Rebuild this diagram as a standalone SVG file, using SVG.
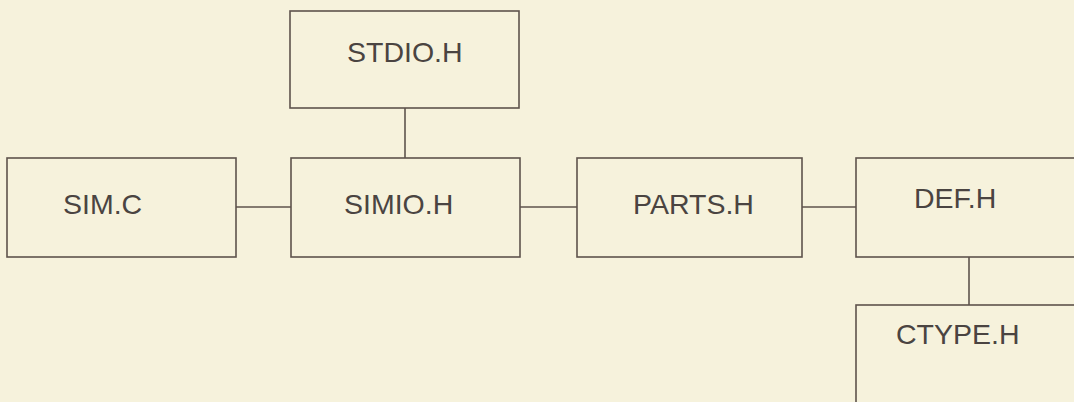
<svg xmlns="http://www.w3.org/2000/svg" width="1074" height="402" viewBox="0 0 1074 402">
<style>
.box{fill:none;stroke:#5e534d;stroke-width:1.6}
.lbl{font-family:"Liberation Sans",Arial,sans-serif;font-size:28.5px;fill:#4a4441}
.con{stroke:#5e534d;stroke-width:1.6;fill:none}
</style>
<rect width="1074" height="402" fill="#f6f2dc"/>
<g id="connectors">
<line class="con" x1="405" y1="108" x2="405" y2="158"/>
<line class="con" x1="236" y1="207" x2="291" y2="207"/>
<line class="con" x1="520" y1="207" x2="577" y2="207"/>
<line class="con" x1="802" y1="207" x2="856" y2="207"/>
<line class="con" x1="969" y1="257" x2="969" y2="305"/>
</g>
<g id="stdio"><rect class="box" x="290" y="11" width="229" height="97"/><text class="lbl" x="347" y="62">STDIO.H</text></g>
<g id="simc"><rect class="box" x="7" y="158" width="229" height="99"/><text class="lbl" x="63" y="214">SIM.C</text></g>
<g id="simio"><rect class="box" x="291" y="158" width="229" height="99"/><text class="lbl" x="344" y="214">SIMIO.H</text></g>
<g id="parts"><rect class="box" x="577" y="158" width="225" height="99"/><text class="lbl" x="633" y="214">PARTS.H</text></g>
<g id="def"><rect class="box" x="856" y="158" width="240" height="99"/><text class="lbl" x="914" y="208">DEF.H</text></g>
<g id="ctype"><rect class="box" x="856" y="305" width="240" height="120"/><text class="lbl" x="896" y="344">CTYPE.H</text></g>
</svg>
